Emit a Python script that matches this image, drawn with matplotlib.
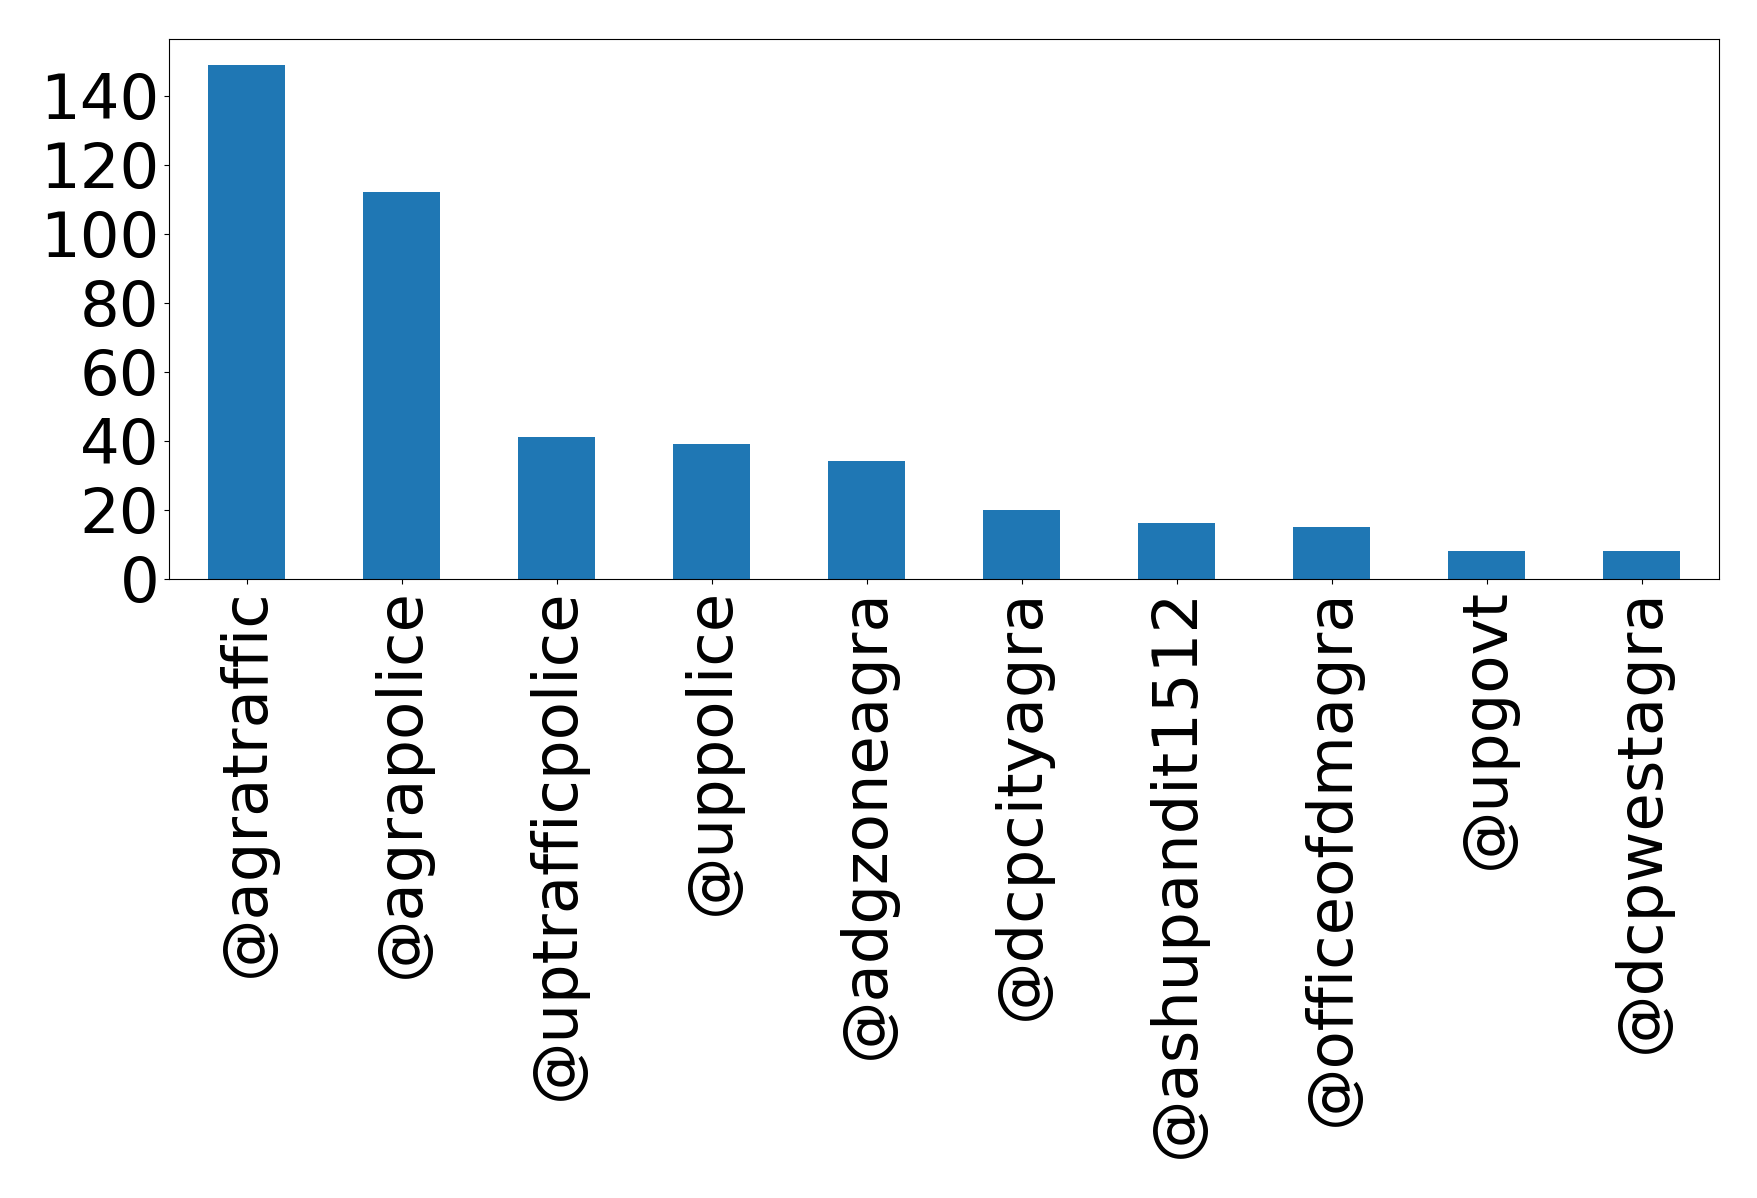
import matplotlib
matplotlib.use("Agg")
import matplotlib.pyplot as plt

handles = ["@agratraffic", "@agrapolice", "@uptrafficpolice", "@uppolice", "@adgzoneagra",
           "@dcpcityagra", "@ashupandit1512", "@officeofdmagra", "@upgovt", "@dcpwestagra"]
counts = [149, 112, 41, 39, 34, 20, 16, 15, 8, 8]

W, H = 1758, 1198
fig = plt.figure(figsize=(W / 100, H / 100), dpi=100)
ax = fig.add_axes([169 / W, 1 - 578.5 / H, (1719 - 169) / W, (578.5 - 39) / H])
x = list(range(len(handles)))
ax.bar(x, counts, width=0.5, color="#1f77b4")
ax.set_xlim(-0.5, len(handles) - 0.5)
ax.set_ylim(0, max(counts) * 1.05)
ax.set_xticks(x)
ax.set_xticklabels(handles, rotation=90, fontsize=45)
ax.set_yticks([0, 20, 40, 60, 80, 100, 120, 140])
ax.tick_params(axis="y", labelsize=45)
fig.savefig("out.png", dpi=100)
